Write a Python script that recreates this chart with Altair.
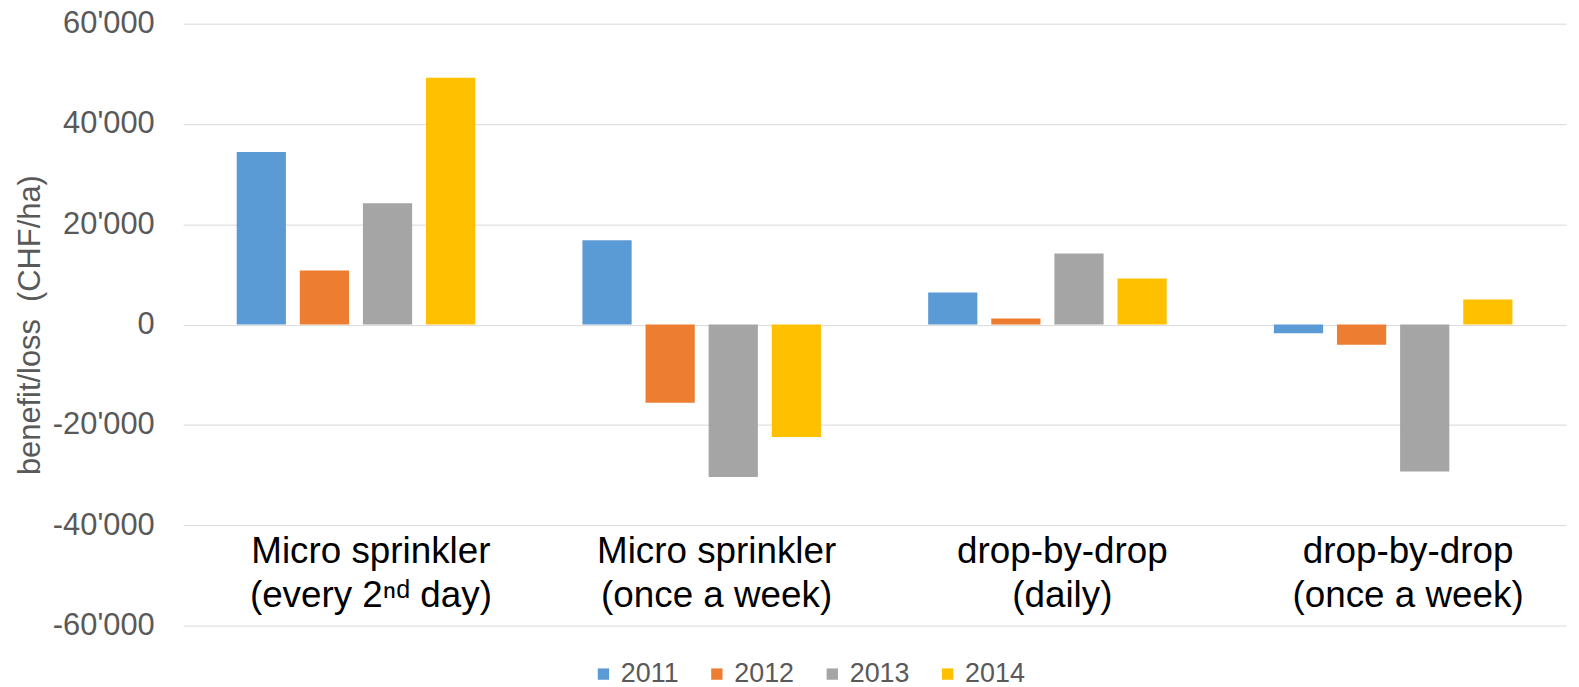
import altair as alt
import pandas as pd

# ---- data ----
categories = ["ms2", "msw", "dd", "ddw"]
category_labels = [
    "Micro sprinkler\n(every 2\u207f\u1d48 day)",
    "Micro sprinkler\n(once a week)",
    "drop-by-drop\n(daily)",
    "drop-by-drop\n(once a week)",
]
years = ["2011", "2012", "2013", "2014"]
values_ms2 = [34400, 10800, 24200, 49200]
values_msw = [16800, -15600, -30400, -22400]
values_dd = [6400, 1200, 14200, 9200]
values_ddw = [-1700, -4000, -29300, 5000]
colors = ["#5B9BD5", "#ED7D31", "#A5A5A5", "#FFC000"]
y_ticks = [-60000, -40000, -20000, 0, 20000, 40000, 60000]
label_level = -45300

rows = []
for cat, vals in zip(categories, [values_ms2, values_msw, values_dd, values_ddw]):
    for yr, v in zip(years, vals):
        rows.append({"cat": cat, "year": yr, "value": v})
df = pd.DataFrame(rows)
lab_df = pd.DataFrame({"cat": categories, "label": category_labels, "lvl": [label_level] * 4})

FONT = "Liberation Sans"

x_scale = alt.Scale(paddingInner=0.31, paddingOuter=0.155)
y_scale = alt.Scale(domain=[-60000, 60000], nice=False, zero=False)

bars = alt.Chart(df).mark_bar().encode(
    x=alt.X("cat:N", sort=categories, scale=x_scale, axis=None),
    xOffset=alt.XOffset("year:N", sort=years,
                        scale=alt.Scale(paddingInner=0.22, paddingOuter=0)),
    y=alt.Y("value:Q", scale=y_scale,
            axis=alt.Axis(values=y_ticks, title="benefit/loss\u00a0 (CHF/ha)",
                          labelExpr="(datum.value < 0 ? '-' : '') + replace(format(abs(datum.value), ','), ',', \"'\")",
                          labelFontSize=31, labelColor="#595959", labelFont=FONT,
                          labelPadding=29, titleFontSize=31, titleFont=FONT,
                          titleFontWeight="normal", titleColor="#595959",
                          titlePadding=6, domain=False, ticks=False,
                          grid=True, gridColor="#D9D9D9", gridWidth=1)),
    color=alt.Color("year:N", sort=years,
                    scale=alt.Scale(domain=years, range=colors),
                    legend=alt.Legend(title=None, orient="none", direction="horizontal",
                                      legendX=409, legendY=640,
                                      symbolType="square", symbolSize=130,
                                      symbolStrokeWidth=0, labelFontSize=27,
                                      labelFont=FONT, labelColor="#595959",
                                      labelOffset=4, columnPadding=24, padding=0)),
)

texts = alt.Chart(lab_df).mark_text(
    fontSize=37, font=FONT, color="#000000", lineBreak="\n",
    baseline="middle", align="center", lineHeight=44, dx=15,
).encode(
    x=alt.X("cat:N", sort=categories, scale=x_scale, axis=None),
    y=alt.Y("lvl:Q", scale=y_scale),
    text="label:N",
)

chart = alt.layer(bars, texts).properties(
    width=1390, height=605,
    autosize=alt.AutoSizeParams(type="none"),
    padding={"left": 176, "top": 14, "right": 5, "bottom": 62},
).configure(font=FONT).configure_view(stroke=None)

chart.save("out.html", embed_options={"renderer": "svg", "actions": False})
